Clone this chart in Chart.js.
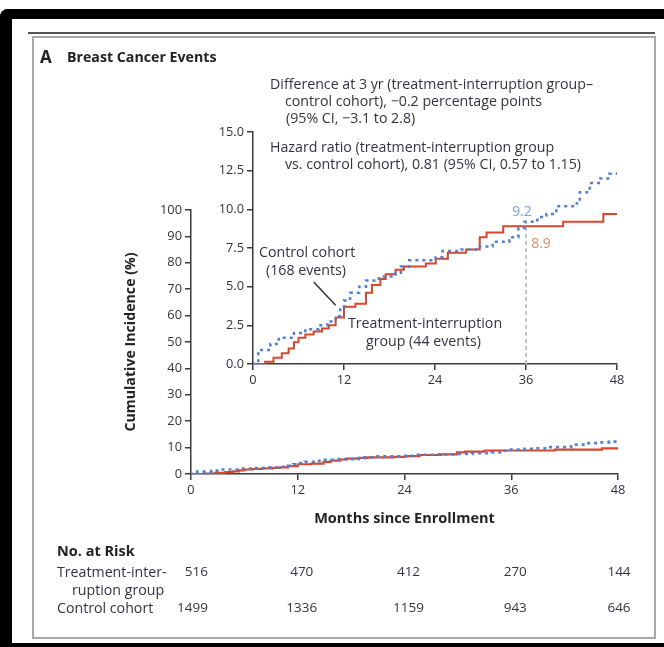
<!DOCTYPE html>
<html>
<head>
<meta charset="utf-8">
<script src="https://cdn.jsdelivr.net/npm/chart.js@4/dist/chart.umd.min.js"></script>
<style>
  html, body { margin: 0; padding: 0; background: #fff; }
  body { width: 664px; height: 647px; position: relative; overflow: hidden; font-family: "Open Sans", Lato, sans-serif; color: #333340; }
  .abs { position: absolute; white-space: nowrap; }
  .t { font-size: 14.2px; line-height: 16px; }
  canvas { position: absolute; }
</style>
</head>
<body>
<!-- outer frame -->
<div class="abs" style="left:0;top:9px;width:664px;height:10px;background:#000;border-top-left-radius:8px;"></div>
<div class="abs" style="left:0;top:9px;width:12px;height:638px;background:#000;border-top-left-radius:8px;"></div>
<div class="abs" style="left:0;top:643px;width:664px;height:4px;background:#000;"></div>
<!-- panel frame -->
<div class="abs" style="left:28px;top:32px;width:627px;height:2px;background:#555;"></div>
<div class="abs" style="left:32px;top:36px;width:620px;height:599px;border:2px solid #a8a8a8;"></div>

<canvas id="main" width="664" height="647" style="left:0;top:0;width:664px;height:647px;"></canvas>
<canvas id="inset" width="440" height="280" style="left:200px;top:115px;width:440px;height:280px;"></canvas>

<div class="abs" style="left:40px;top:47px;font-size:17px;line-height:19px;font-weight:700;color:#222;">A</div>
<div class="abs" style="left:67px;top:49px;font-size:14.2px;line-height:16px;font-weight:700;color:#222;">Breast Cancer Events</div>

<div class="abs t" style="left:270px;top:76px;">Difference at 3 yr (treatment-interruption group–</div>
<div class="abs t" style="left:285px;top:93px;">control cohort), −0.2 percentage points</div>
<div class="abs t" style="left:286px;top:110px;">(95% CI, −3.1 to 2.8)</div>
<div class="abs t" style="left:270px;top:139px;">Hazard ratio (treatment-interruption group</div>
<div class="abs t" style="left:285px;top:156px;">vs. control cohort), 0.81 (95% CI, 0.57 to 1.15)</div>

<div class="abs t" style="left:259px;top:244px;">Control cohort</div>
<div class="abs t" style="left:266px;top:262px;">(168 events)</div>
<div class="abs t" style="left:348px;top:315px;">Treatment-interruption</div>
<div class="abs t" style="left:366px;top:333px;">group (44 events)</div>

<div class="abs" style="left:57px;top:543px;font-size:14.5px;line-height:16px;font-weight:700;color:#222;">No. at Risk</div>
<div class="abs t" style="left:57px;top:564px;">Treatment-inter-</div>
<div class="abs t" style="left:72px;top:582px;">ruption group</div>
<div class="abs t" style="left:57px;top:600px;">Control cohort</div>

<script>
// Cumulative incidence of breast cancer events (%), step points: month at which the curve jumps, new level
const treatmentMonths = [0, 1.6, 2.7, 3.8, 4.7, 5.4, 6.0, 6.9, 8.0, 9.1, 10.0, 10.9, 12.0, 13.5, 14.9, 15.7, 16.8, 17.5, 18.8, 19.9, 22.8, 24.1, 25.7, 28.1, 29.9, 30.8, 33.0, 40.9, 46.2, 48];
const treatmentPct    = [0, 0.15, 0.4, 0.7, 1.0, 1.4, 1.7, 1.9, 2.1, 2.3, 2.5, 3.0, 3.7, 3.9, 4.6, 5.1, 5.5, 5.8, 6.1, 6.3, 6.5, 6.8, 7.2, 7.4, 8.2, 8.5, 8.9, 9.2, 9.7, 9.7];
const controlMonths   = [0, 0.7, 2.3, 3.4, 5.4, 6.9, 8.7, 9.8, 10.9, 11.5, 12.0, 12.8, 14.0, 14.9, 16.6, 18.8, 19.5, 20.6, 24.1, 25.0, 27.5, 29.9, 31.6, 33.8, 35.0, 35.8, 37.5, 38.7, 40.0, 42.7, 43.1, 44.4, 45.8, 47.0, 48];
const controlPct      = [0, 0.9, 1.3, 1.7, 2.0, 2.25, 2.5, 2.75, 3.1, 3.7, 4.1, 4.6, 5.0, 5.4, 5.65, 5.9, 6.3, 6.7, 6.9, 7.3, 7.4, 7.6, 7.9, 8.2, 8.8, 9.2, 9.5, 9.7, 10.2, 10.4, 11.1, 11.7, 12.0, 12.3, 12.4];

// 3-year estimates shown on the inset
const threeYearMonth = 36;
const threeYearTreatment = 8.9;
const threeYearControl = 9.2;

// Axis ticks
const monthTicks = [0, 12, 24, 36, 48];
const mainPctTicks = [0, 10, 20, 30, 40, 50, 60, 70, 80, 90, 100];
const insetPctTicks = [0, 2.5, 5.0, 7.5, 10.0, 12.5, 15.0];

// Numbers at risk
const riskMonths = [0, 12, 24, 36, 48];
const riskTreatment = [516, 470, 412, 270, 144];
const riskControl = [1499, 1336, 1159, 943, 646];

const RED = '#d8472c';
const BLUE = '#5080d4';
const INK = '#333340';
const FAMILY = '"Open Sans", Lato, sans-serif';

Chart.defaults.font.family = FAMILY;
Chart.defaults.font.size = 13;
Chart.defaults.color = INK;
Chart.defaults.animation = false;

const pts = (xs, ys) => xs.map((x, i) => ({ x, y: ys[i] }));
const setTicks = arr => scale => { scale.ticks = arr.map(v => ({ value: v })); };

function axis(extra) {
  return Object.assign({
    type: 'linear',
    grid: { display: true, drawOnChartArea: false, drawTicks: true, tickLength: 6, color: '#3a3a3a', lineWidth: 1.5 },
    border: { display: true, color: '#3a3a3a', width: 1.5 },
    ticks: { padding: 3, color: INK, font: { size: 12.8 } }
  }, extra);
}

function curves(width) {
  return [
    { label: 'Control cohort', data: pts(controlMonths, controlPct), stepped: 'before', borderColor: BLUE, borderWidth: width + 0.5, borderDash: [3, 4], pointRadius: 0, fill: false, order: 1 },
    { label: 'Treatment-interruption group', data: pts(treatmentMonths, treatmentPct), stepped: 'before', borderColor: RED, borderWidth: width, pointRadius: 0, fill: false, order: 2 }
  ];
}

// Numbers-at-risk rows, aligned to the month axis
const riskTable = {
  id: 'riskTable',
  afterDraw(chart) {
    const ctx = chart.ctx, xs = chart.scales.x;
    ctx.save();
    ctx.font = '13.5px ' + FAMILY;
    ctx.fillStyle = INK;
    ctx.textBaseline = 'middle';
    riskMonths.forEach((m, i) => {
      let px = xs.getPixelForValue(m);
      ctx.textAlign = 'center';
      if (i === 0) { ctx.textAlign = 'right'; px += 17; }
      else if (i === riskMonths.length - 1) { px += 1; }
      else { px += 4; }
      ctx.fillText(String(riskTreatment[i]), px, 572);
      ctx.fillText(String(riskControl[i]), px, 608);
    });
    ctx.restore();
  }
};

new Chart(document.getElementById('main'), {
  type: 'line',
  data: { datasets: curves(2.2) },
  options: {
    responsive: false,
    layout: { padding: { left: 122, right: 46, top: 210, bottom: 119 } },
    plugins: { legend: { display: false }, tooltip: { enabled: false } },
    scales: {
      x: axis({ min: 0, max: 48, afterBuildTicks: setTicks(monthTicks), afterFit: s => { s.height = 54; },
        title: { display: true, text: 'Months since Enrollment', color: '#222', font: { size: 14.5, weight: 'bold' }, padding: 0 } }),
      y: axis({ min: 0, max: 100, afterBuildTicks: setTicks(mainPctTicks), afterFit: s => { s.width = 69; },
        title: { display: true, text: 'Cumulative Incidence (%)', color: '#222', font: { size: 14.2, weight: 'bold' }, padding: 0 } })
    }
  },
  plugins: [riskTable]
});

// Inset annotations: 3-year values and the leader line to the control curve
const insetNotes = {
  id: 'insetNotes',
  afterDatasetsDraw(chart) {
    const ctx = chart.ctx, xs = chart.scales.x, ys = chart.scales.y;
    ctx.save();
    ctx.font = '14px ' + FAMILY;
    ctx.textAlign = 'center';
    ctx.textBaseline = 'middle';
    const px = xs.getPixelForValue(threeYearMonth);
    ctx.fillStyle = '#7f9fdc';
    ctx.fillText(threeYearControl.toFixed(1), px - 4, ys.getPixelForValue(threeYearControl) - 10);
    ctx.fillStyle = '#e58a5c';
    ctx.fillText(threeYearTreatment.toFixed(1), px + 15, ys.getPixelForValue(threeYearTreatment) + 18);
    ctx.strokeStyle = '#333';
    ctx.lineWidth = 1.5;
    ctx.beginPath();
    ctx.moveTo(xs.getPixelForValue(8.0), ys.getPixelForValue(5.3));
    ctx.lineTo(xs.getPixelForValue(10.9), ys.getPixelForValue(3.8));
    ctx.stroke();
    ctx.restore();
  }
};

const insetSets = curves(2);
insetSets.push({ label: '3 yr', data: [{ x: threeYearMonth, y: 0 }, { x: threeYearMonth, y: threeYearControl }], borderColor: '#c4c4c4', borderWidth: 2, borderDash: [4, 3], pointRadius: 0, order: 3 });

new Chart(document.getElementById('inset'), {
  type: 'line',
  data: { datasets: insetSets },
  options: {
    responsive: false,
    layout: { padding: { left: 0, right: 23, top: 17, bottom: 6 } },
    plugins: { legend: { display: false }, tooltip: { enabled: false } },
    scales: {
      x: axis({ min: 0, max: 48, afterBuildTicks: setTicks(monthTicks), afterFit: s => { s.height = 25; } }),
      y: axis({ min: 0, max: 15, afterBuildTicks: setTicks(insetPctTicks), afterFit: s => { s.width = 53; },
        ticks: { padding: 3, color: INK, font: { size: 12.8 }, callback: v => Number(v).toFixed(1) } })
    }
  },
  plugins: [insetNotes]
});
</script>
</body>
</html>
